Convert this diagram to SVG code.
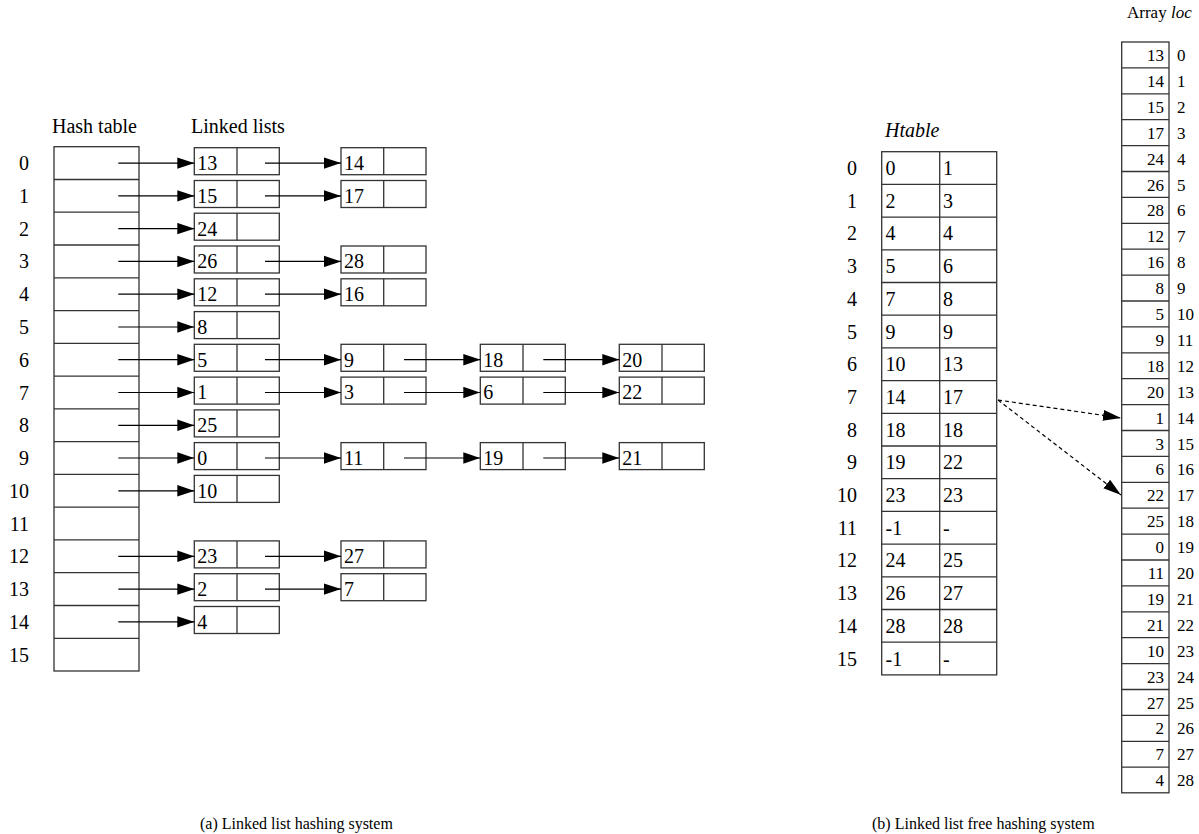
<svg xmlns="http://www.w3.org/2000/svg" width="1199" height="834" viewBox="0 0 1199 834" font-family="'Liberation Serif', 'Times New Roman', Times, serif">
<style>
text{font-family:'Liberation Serif','Times New Roman',Times,serif;fill:#000}
.t{font-size:20px}
.lab{font-size:20px;text-anchor:end}
.ttl{font-size:20px}
.it{font-style:italic}
.arr{font-size:17px}
.arrv{font-size:17px;text-anchor:end}
.cap{font-size:16px}
.box{fill:#fff;stroke:#333;stroke-width:1.3}
.ln{stroke:#333;stroke-width:1.3}
.con{stroke:#000;stroke-width:1.2;fill:none;marker-end:url(#ah)}
.dash{stroke:#000;stroke-width:1.2;fill:none;stroke-dasharray:4 3;marker-end:url(#ah2)}
</style>
<defs>
<marker id="ah" markerUnits="userSpaceOnUse" markerWidth="17" markerHeight="12" refX="17" refY="6" orient="auto"><path d="M0,0.3 L17,6 L0,11.7 z" fill="#000"/></marker>
<marker id="ah2" markerUnits="userSpaceOnUse" markerWidth="18" markerHeight="12" refX="18" refY="6" orient="auto"><path d="M0,0.5 L18,6 L0,11.5 z" fill="#000"/></marker>
</defs>

<!-- (a) Hash table -->
<g id="hash-table">
<text class="ttl" x="52" y="133">Hash table</text>
<rect class="box" x="54" y="146.7" width="85" height="524.3"/>
<line class="ln" x1="54" y1="179.5" x2="139" y2="179.5"/>
<line class="ln" x1="54" y1="212.2" x2="139" y2="212.2"/>
<line class="ln" x1="54" y1="245" x2="139" y2="245"/>
<line class="ln" x1="54" y1="277.8" x2="139" y2="277.8"/>
<line class="ln" x1="54" y1="310.6" x2="139" y2="310.6"/>
<line class="ln" x1="54" y1="343.3" x2="139" y2="343.3"/>
<line class="ln" x1="54" y1="376.1" x2="139" y2="376.1"/>
<line class="ln" x1="54" y1="408.9" x2="139" y2="408.9"/>
<line class="ln" x1="54" y1="441.6" x2="139" y2="441.6"/>
<line class="ln" x1="54" y1="474.4" x2="139" y2="474.4"/>
<line class="ln" x1="54" y1="507.2" x2="139" y2="507.2"/>
<line class="ln" x1="54" y1="539.9" x2="139" y2="539.9"/>
<line class="ln" x1="54" y1="572.7" x2="139" y2="572.7"/>
<line class="ln" x1="54" y1="605.5" x2="139" y2="605.5"/>
<line class="ln" x1="54" y1="638.3" x2="139" y2="638.3"/>
<text class="lab" x="29" y="170.1">0</text>
<text class="lab" x="29" y="202.9">1</text>
<text class="lab" x="29" y="235.6">2</text>
<text class="lab" x="29" y="268.4">3</text>
<text class="lab" x="29" y="301.2">4</text>
<text class="lab" x="29" y="334">5</text>
<text class="lab" x="29" y="366.7">6</text>
<text class="lab" x="29" y="399.5">7</text>
<text class="lab" x="29" y="432.3">8</text>
<text class="lab" x="29" y="465">9</text>
<text class="lab" x="29" y="497.8">10</text>
<text class="lab" x="29" y="530.6">11</text>
<text class="lab" x="29" y="563.3">12</text>
<text class="lab" x="29" y="596.1">13</text>
<text class="lab" x="29" y="628.9">14</text>
<text class="lab" x="29" y="661.7">15</text>
</g>
<text class="ttl" x="191" y="133">Linked lists</text>

<!-- linked list nodes -->
<g id="n0a" transform="translate(194.3,147.7)"><rect class="box" width="85" height="27"/><line class="ln" x1="42.7" y1="0" x2="42.7" y2="27"/><text class="t" x="3" y="22.4">13</text></g>
<g id="n0b" transform="translate(341,147.7)"><rect class="box" width="85" height="27"/><line class="ln" x1="42.7" y1="0" x2="42.7" y2="27"/><text class="t" x="3" y="22.4">14</text></g>
<g id="n1a" transform="translate(194.3,180.5)"><rect class="box" width="85" height="27"/><line class="ln" x1="42.7" y1="0" x2="42.7" y2="27"/><text class="t" x="3" y="22.4">15</text></g>
<g id="n1b" transform="translate(341,180.5)"><rect class="box" width="85" height="27"/><line class="ln" x1="42.7" y1="0" x2="42.7" y2="27"/><text class="t" x="3" y="22.4">17</text></g>
<g id="n2a" transform="translate(194.3,213.2)"><rect class="box" width="85" height="27"/><line class="ln" x1="42.7" y1="0" x2="42.7" y2="27"/><text class="t" x="3" y="22.4">24</text></g>
<g id="n3a" transform="translate(194.3,246)"><rect class="box" width="85" height="27"/><line class="ln" x1="42.7" y1="0" x2="42.7" y2="27"/><text class="t" x="3" y="22.4">26</text></g>
<g id="n3b" transform="translate(341,246)"><rect class="box" width="85" height="27"/><line class="ln" x1="42.7" y1="0" x2="42.7" y2="27"/><text class="t" x="3" y="22.4">28</text></g>
<g id="n4a" transform="translate(194.3,278.8)"><rect class="box" width="85" height="27"/><line class="ln" x1="42.7" y1="0" x2="42.7" y2="27"/><text class="t" x="3" y="22.4">12</text></g>
<g id="n4b" transform="translate(341,278.8)"><rect class="box" width="85" height="27"/><line class="ln" x1="42.7" y1="0" x2="42.7" y2="27"/><text class="t" x="3" y="22.4">16</text></g>
<g id="n5a" transform="translate(194.3,311.6)"><rect class="box" width="85" height="27"/><line class="ln" x1="42.7" y1="0" x2="42.7" y2="27"/><text class="t" x="3" y="22.4">8</text></g>
<g id="n6a" transform="translate(194.3,344.3)"><rect class="box" width="85" height="27"/><line class="ln" x1="42.7" y1="0" x2="42.7" y2="27"/><text class="t" x="3" y="22.4">5</text></g>
<g id="n6b" transform="translate(341,344.3)"><rect class="box" width="85" height="27"/><line class="ln" x1="42.7" y1="0" x2="42.7" y2="27"/><text class="t" x="3" y="22.4">9</text></g>
<g id="n6c" transform="translate(480.3,344.3)"><rect class="box" width="85" height="27"/><line class="ln" x1="42.7" y1="0" x2="42.7" y2="27"/><text class="t" x="3" y="22.4">18</text></g>
<g id="n6d" transform="translate(619.3,344.3)"><rect class="box" width="85" height="27"/><line class="ln" x1="42.7" y1="0" x2="42.7" y2="27"/><text class="t" x="3" y="22.4">20</text></g>
<g id="n7a" transform="translate(194.3,377.1)"><rect class="box" width="85" height="27"/><line class="ln" x1="42.7" y1="0" x2="42.7" y2="27"/><text class="t" x="3" y="22.4">1</text></g>
<g id="n7b" transform="translate(341,377.1)"><rect class="box" width="85" height="27"/><line class="ln" x1="42.7" y1="0" x2="42.7" y2="27"/><text class="t" x="3" y="22.4">3</text></g>
<g id="n7c" transform="translate(480.3,377.1)"><rect class="box" width="85" height="27"/><line class="ln" x1="42.7" y1="0" x2="42.7" y2="27"/><text class="t" x="3" y="22.4">6</text></g>
<g id="n7d" transform="translate(619.3,377.1)"><rect class="box" width="85" height="27"/><line class="ln" x1="42.7" y1="0" x2="42.7" y2="27"/><text class="t" x="3" y="22.4">22</text></g>
<g id="n8a" transform="translate(194.3,409.9)"><rect class="box" width="85" height="27"/><line class="ln" x1="42.7" y1="0" x2="42.7" y2="27"/><text class="t" x="3" y="22.4">25</text></g>
<g id="n9a" transform="translate(194.3,442.6)"><rect class="box" width="85" height="27"/><line class="ln" x1="42.7" y1="0" x2="42.7" y2="27"/><text class="t" x="3" y="22.4">0</text></g>
<g id="n9b" transform="translate(341,442.6)"><rect class="box" width="85" height="27"/><line class="ln" x1="42.7" y1="0" x2="42.7" y2="27"/><text class="t" x="3" y="22.4">11</text></g>
<g id="n9c" transform="translate(480.3,442.6)"><rect class="box" width="85" height="27"/><line class="ln" x1="42.7" y1="0" x2="42.7" y2="27"/><text class="t" x="3" y="22.4">19</text></g>
<g id="n9d" transform="translate(619.3,442.6)"><rect class="box" width="85" height="27"/><line class="ln" x1="42.7" y1="0" x2="42.7" y2="27"/><text class="t" x="3" y="22.4">21</text></g>
<g id="n10a" transform="translate(194.3,475.4)"><rect class="box" width="85" height="27"/><line class="ln" x1="42.7" y1="0" x2="42.7" y2="27"/><text class="t" x="3" y="22.4">10</text></g>
<g id="n12a" transform="translate(194.3,540.9)"><rect class="box" width="85" height="27"/><line class="ln" x1="42.7" y1="0" x2="42.7" y2="27"/><text class="t" x="3" y="22.4">23</text></g>
<g id="n12b" transform="translate(341,540.9)"><rect class="box" width="85" height="27"/><line class="ln" x1="42.7" y1="0" x2="42.7" y2="27"/><text class="t" x="3" y="22.4">27</text></g>
<g id="n13a" transform="translate(194.3,573.7)"><rect class="box" width="85" height="27"/><line class="ln" x1="42.7" y1="0" x2="42.7" y2="27"/><text class="t" x="3" y="22.4">2</text></g>
<g id="n13b" transform="translate(341,573.7)"><rect class="box" width="85" height="27"/><line class="ln" x1="42.7" y1="0" x2="42.7" y2="27"/><text class="t" x="3" y="22.4">7</text></g>
<g id="n14a" transform="translate(194.3,606.5)"><rect class="box" width="85" height="27"/><line class="ln" x1="42.7" y1="0" x2="42.7" y2="27"/><text class="t" x="3" y="22.4">4</text></g>

<!-- (b) Htable -->
<g id="htable">
<text class="ttl it" x="885" y="137">Htable</text>
<rect class="box" x="881.7" y="151.7" width="115" height="523.2"/>
<line class="ln" x1="939.7" y1="151.7" x2="939.7" y2="674.9"/>
<line class="ln" x1="881.7" y1="184.4" x2="996.7" y2="184.4"/>
<line class="ln" x1="881.7" y1="217.1" x2="996.7" y2="217.1"/>
<line class="ln" x1="881.7" y1="249.8" x2="996.7" y2="249.8"/>
<line class="ln" x1="881.7" y1="282.5" x2="996.7" y2="282.5"/>
<line class="ln" x1="881.7" y1="315.2" x2="996.7" y2="315.2"/>
<line class="ln" x1="881.7" y1="347.9" x2="996.7" y2="347.9"/>
<line class="ln" x1="881.7" y1="380.6" x2="996.7" y2="380.6"/>
<line class="ln" x1="881.7" y1="413.3" x2="996.7" y2="413.3"/>
<line class="ln" x1="881.7" y1="446" x2="996.7" y2="446"/>
<line class="ln" x1="881.7" y1="478.7" x2="996.7" y2="478.7"/>
<line class="ln" x1="881.7" y1="511.4" x2="996.7" y2="511.4"/>
<line class="ln" x1="881.7" y1="544.1" x2="996.7" y2="544.1"/>
<line class="ln" x1="881.7" y1="576.8" x2="996.7" y2="576.8"/>
<line class="ln" x1="881.7" y1="609.5" x2="996.7" y2="609.5"/>
<line class="ln" x1="881.7" y1="642.2" x2="996.7" y2="642.2"/>
<g class="t">
<text class="lab" x="857" y="175">0</text><text x="885.5" y="175">0</text><text x="943" y="175">1</text>
<text class="lab" x="857" y="207.7">1</text><text x="885.5" y="207.7">2</text><text x="943" y="207.7">3</text>
<text class="lab" x="857" y="240.4">2</text><text x="885.5" y="240.4">4</text><text x="943" y="240.4">4</text>
<text class="lab" x="857" y="273.1">3</text><text x="885.5" y="273.1">5</text><text x="943" y="273.1">6</text>
<text class="lab" x="857" y="305.8">4</text><text x="885.5" y="305.8">7</text><text x="943" y="305.8">8</text>
<text class="lab" x="857" y="338.5">5</text><text x="885.5" y="338.5">9</text><text x="943" y="338.5">9</text>
<text class="lab" x="857" y="371.2">6</text><text x="885.5" y="371.2">10</text><text x="943" y="371.2">13</text>
<text class="lab" x="857" y="403.9">7</text><text x="885.5" y="403.9">14</text><text x="943" y="403.9">17</text>
<text class="lab" x="857" y="436.6">8</text><text x="885.5" y="436.6">18</text><text x="943" y="436.6">18</text>
<text class="lab" x="857" y="469.3">9</text><text x="885.5" y="469.3">19</text><text x="943" y="469.3">22</text>
<text class="lab" x="857" y="502">10</text><text x="885.5" y="502">23</text><text x="943" y="502">23</text>
<text class="lab" x="857" y="534.7">11</text><text x="885.5" y="534.7">-1</text><text x="943" y="534.7">-</text>
<text class="lab" x="857" y="567.4">12</text><text x="885.5" y="567.4">24</text><text x="943" y="567.4">25</text>
<text class="lab" x="857" y="600.1">13</text><text x="885.5" y="600.1">26</text><text x="943" y="600.1">27</text>
<text class="lab" x="857" y="632.8">14</text><text x="885.5" y="632.8">28</text><text x="943" y="632.8">28</text>
<text class="lab" x="857" y="665.5">15</text><text x="885.5" y="665.5">-1</text><text x="943" y="665.5">-</text>
</g>
</g>

<!-- Array loc -->
<g id="array-loc">
<text class="ttl" x="1127" y="18" style="font-size:17px">Array <tspan class="it">loc</tspan></text>
<rect class="box" x="1121.7" y="42" width="47.3" height="750.8"/>
<g class="ln">
<line x1="1121.7" y1="67.9" x2="1169" y2="67.9"/><line x1="1121.7" y1="93.8" x2="1169" y2="93.8"/><line x1="1121.7" y1="119.7" x2="1169" y2="119.7"/><line x1="1121.7" y1="145.6" x2="1169" y2="145.6"/><line x1="1121.7" y1="171.5" x2="1169" y2="171.5"/><line x1="1121.7" y1="197.4" x2="1169" y2="197.4"/><line x1="1121.7" y1="223.3" x2="1169" y2="223.3"/><line x1="1121.7" y1="249.2" x2="1169" y2="249.2"/><line x1="1121.7" y1="275.1" x2="1169" y2="275.1"/><line x1="1121.7" y1="301" x2="1169" y2="301"/><line x1="1121.7" y1="326.9" x2="1169" y2="326.9"/><line x1="1121.7" y1="352.8" x2="1169" y2="352.8"/><line x1="1121.7" y1="378.7" x2="1169" y2="378.7"/><line x1="1121.7" y1="404.6" x2="1169" y2="404.6"/><line x1="1121.7" y1="430.5" x2="1169" y2="430.5"/><line x1="1121.7" y1="456.4" x2="1169" y2="456.4"/><line x1="1121.7" y1="482.3" x2="1169" y2="482.3"/><line x1="1121.7" y1="508.2" x2="1169" y2="508.2"/><line x1="1121.7" y1="534.1" x2="1169" y2="534.1"/><line x1="1121.7" y1="560" x2="1169" y2="560"/><line x1="1121.7" y1="585.9" x2="1169" y2="585.9"/><line x1="1121.7" y1="611.8" x2="1169" y2="611.8"/><line x1="1121.7" y1="637.7" x2="1169" y2="637.7"/><line x1="1121.7" y1="663.6" x2="1169" y2="663.6"/><line x1="1121.7" y1="689.5" x2="1169" y2="689.5"/><line x1="1121.7" y1="715.4" x2="1169" y2="715.4"/><line x1="1121.7" y1="741.3" x2="1169" y2="741.3"/><line x1="1121.7" y1="767.2" x2="1169" y2="767.2"/>
</g>
<g class="arrv">
<text x="1164" y="61">13</text><text x="1164" y="86.9">14</text><text x="1164" y="112.8">15</text><text x="1164" y="138.7">17</text><text x="1164" y="164.6">24</text><text x="1164" y="190.5">26</text><text x="1164" y="216.4">28</text><text x="1164" y="242.3">12</text><text x="1164" y="268.2">16</text><text x="1164" y="294.1">8</text><text x="1164" y="320">5</text><text x="1164" y="345.9">9</text><text x="1164" y="371.8">18</text><text x="1164" y="397.7">20</text><text x="1164" y="423.6">1</text><text x="1164" y="449.5">3</text><text x="1164" y="475.4">6</text><text x="1164" y="501.3">22</text><text x="1164" y="527.2">25</text><text x="1164" y="553.1">0</text><text x="1164" y="579">11</text><text x="1164" y="604.9">19</text><text x="1164" y="630.8">21</text><text x="1164" y="656.7">10</text><text x="1164" y="682.6">23</text><text x="1164" y="708.5">27</text><text x="1164" y="734.4">2</text><text x="1164" y="760.3">7</text><text x="1164" y="786.2">4</text>
</g>
<g class="arr">
<text x="1177" y="61">0</text><text x="1177" y="86.9">1</text><text x="1177" y="112.8">2</text><text x="1177" y="138.7">3</text><text x="1177" y="164.6">4</text><text x="1177" y="190.5">5</text><text x="1177" y="216.4">6</text><text x="1177" y="242.3">7</text><text x="1177" y="268.2">8</text><text x="1177" y="294.1">9</text><text x="1177" y="320">10</text><text x="1177" y="345.9">11</text><text x="1177" y="371.8">12</text><text x="1177" y="397.7">13</text><text x="1177" y="423.6">14</text><text x="1177" y="449.5">15</text><text x="1177" y="475.4">16</text><text x="1177" y="501.3">17</text><text x="1177" y="527.2">18</text><text x="1177" y="553.1">19</text><text x="1177" y="579">20</text><text x="1177" y="604.9">21</text><text x="1177" y="630.8">22</text><text x="1177" y="656.7">23</text><text x="1177" y="682.6">24</text><text x="1177" y="708.5">25</text><text x="1177" y="734.4">26</text><text x="1177" y="760.3">27</text><text x="1177" y="786.2">28</text>
</g>
</g>

<!-- connectors -->
<g id="connectors">
<line class="con" x1="118.3" y1="163.1" x2="194.3" y2="163.1"/>
<line class="con" x1="118.3" y1="195.9" x2="194.3" y2="195.9"/>
<line class="con" x1="118.3" y1="228.6" x2="194.3" y2="228.6"/>
<line class="con" x1="118.3" y1="261.4" x2="194.3" y2="261.4"/>
<line class="con" x1="118.3" y1="294.2" x2="194.3" y2="294.2"/>
<line class="con" x1="118.3" y1="327" x2="194.3" y2="327"/>
<line class="con" x1="118.3" y1="359.7" x2="194.3" y2="359.7"/>
<line class="con" x1="118.3" y1="392.5" x2="194.3" y2="392.5"/>
<line class="con" x1="118.3" y1="425.3" x2="194.3" y2="425.3"/>
<line class="con" x1="118.3" y1="458" x2="194.3" y2="458"/>
<line class="con" x1="118.3" y1="490.8" x2="194.3" y2="490.8"/>
<line class="con" x1="118.3" y1="556.3" x2="194.3" y2="556.3"/>
<line class="con" x1="118.3" y1="589.1" x2="194.3" y2="589.1"/>
<line class="con" x1="118.3" y1="621.9" x2="194.3" y2="621.9"/>
<line class="con" x1="265" y1="163.1" x2="341" y2="163.1"/>
<line class="con" x1="265" y1="195.9" x2="341" y2="195.9"/>
<line class="con" x1="265" y1="261.4" x2="341" y2="261.4"/>
<line class="con" x1="265" y1="294.2" x2="341" y2="294.2"/>
<line class="con" x1="265" y1="359.7" x2="341" y2="359.7"/>
<line class="con" x1="404" y1="359.7" x2="480.3" y2="359.7"/>
<line class="con" x1="543.3" y1="359.7" x2="619.3" y2="359.7"/>
<line class="con" x1="265" y1="392.5" x2="341" y2="392.5"/>
<line class="con" x1="404" y1="392.5" x2="480.3" y2="392.5"/>
<line class="con" x1="543.3" y1="392.5" x2="619.3" y2="392.5"/>
<line class="con" x1="265" y1="458" x2="341" y2="458"/>
<line class="con" x1="404" y1="458" x2="480.3" y2="458"/>
<line class="con" x1="543.3" y1="458" x2="619.3" y2="458"/>
<line class="con" x1="265" y1="556.3" x2="341" y2="556.3"/>
<line class="con" x1="265" y1="589.1" x2="341" y2="589.1"/>
<line class="dash" x1="998" y1="400" x2="1121" y2="418"/>
<line class="dash" x1="998" y1="400" x2="1121" y2="495"/>
</g>

<text class="cap" x="200" y="829">(a) Linked list hashing system</text>
<text class="cap" x="872" y="829">(b) Linked list free hashing system</text>
</svg>
